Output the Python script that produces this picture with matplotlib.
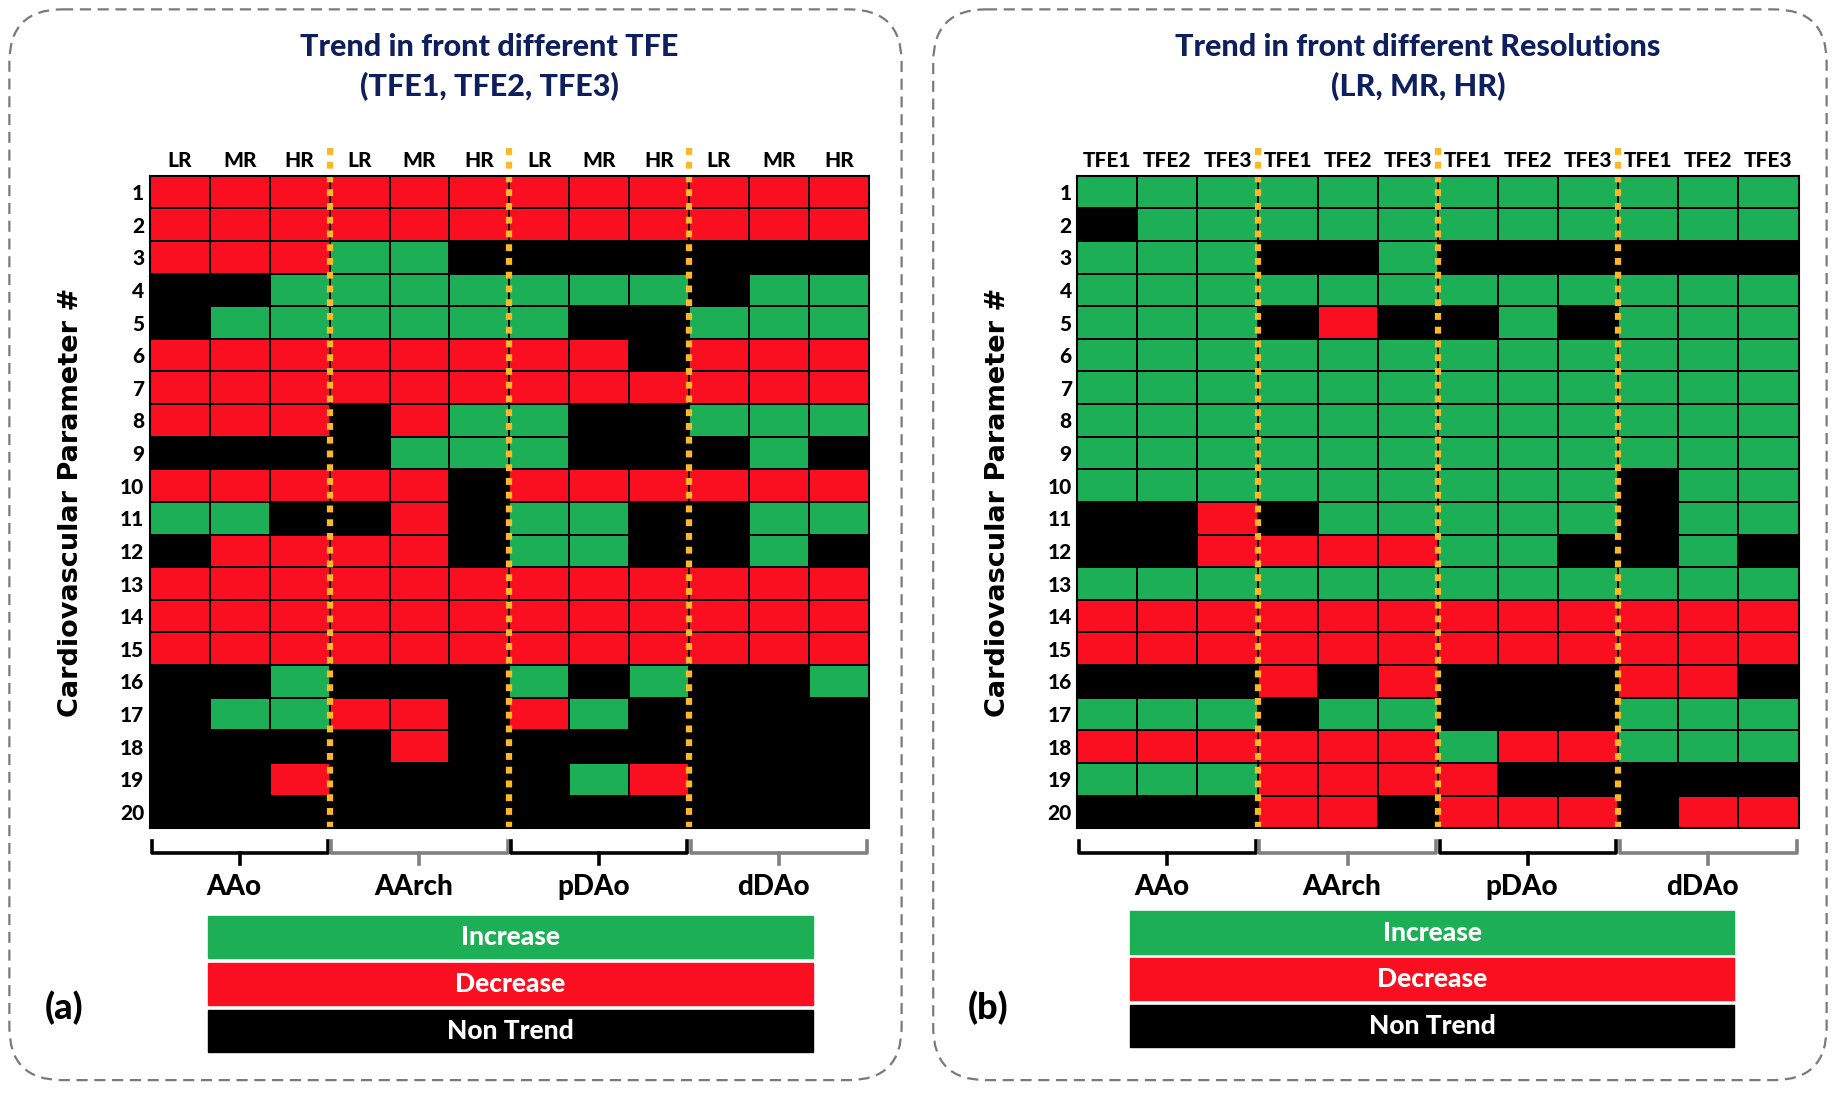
import matplotlib
matplotlib.use('Agg')
import matplotlib.pyplot as plt
from matplotlib.colors import ListedColormap
from matplotlib.patches import FancyBboxPatch, Rectangle
import numpy as np

# I = increase, D = decrease, N = non trend
regions = ['AAo', 'AArch', 'pDAo', 'dDAo']
res_labels = ['LR', 'MR', 'HR']
tfe_labels = ['TFE1', 'TFE2', 'TFE3']
params = [str(i) for i in range(1, 21)]

# (a) trend across TFE, columns = region x resolution
tfe_trend = [
    'DDD DDD DDD DDD',
    'DDD DDD DDD DDD',
    'DDD IIN NNN NNN',
    'NNI III III NII',
    'NII III INN III',
    'DDD DDD DDN DDD',
    'DDD DDD DDD DDD',
    'DDD NDI INN III',
    'NNN NII INN NIN',
    'DDD DDN DDD DDD',
    'IIN NDN IIN NII',
    'NDD DDN IIN NIN',
    'DDD DDD DDD DDD',
    'DDD DDD DDD DDD',
    'DDD DDD DDD DDD',
    'NNI NNN INI NNI',
    'NII DDN DIN NNN',
    'NNN NDN NNN NNN',
    'NND NNN NID NNN',
    'NNN NNN NNN NNN',
]

# (b) trend across resolution, columns = region x TFE
res_trend = [
    'III III III III',
    'NII III III III',
    'III NNI NNN NNN',
    'III III III III',
    'III NDN NIN III',
    'III III III III',
    'III III III III',
    'III III III III',
    'III III III III',
    'III III III NII',
    'NND NII III NII',
    'NND DDD IIN NIN',
    'III III III III',
    'DDD DDD DDD DDD',
    'DDD DDD DDD DDD',
    'NNN DND NNN DDN',
    'III NII NNN III',
    'DDD DDD IDD III',
    'III DDD DNN NNN',
    'NNN DDN DDD NDD',
]

GREEN = '#1DAF55'
RED = '#F90F1F'
NAVY = '#0D1F5C'
YELLOW = '#FDB827'
code = {'N': 0, 'I': 1, 'D': 2}
cmap = ListedColormap(['#000000', GREEN, RED])

plt.rcParams['font.family'] = ['Lato', 'DejaVu Sans']
HEAVY = 900

W, H = 1568, 933
fig = plt.figure(figsize=(18.36, 10.93), dpi=100)
bg = fig.add_axes([0, 0, 1, 1])
bg.set_xlim(0, W)
bg.set_ylim(H, 0)
bg.axis('off')


def to_grid(rows):
    return np.array([[code[c] for c in r.replace(' ', '')] for r in rows])


def panel(box, hm, title, collabels, grid, legend, letter):
    bx0, by0, bx1, by1 = box
    bg.add_patch(FancyBboxPatch((bx0, by0), bx1 - bx0, by1 - by0,
                                boxstyle='round,pad=0,rounding_size=45',
                                fill=False, ec='#7a7a7a', lw=1.6,
                                ls=(0, (5, 3))))
    x0, x1, y0, y1 = hm
    cx = (x0 + x1) / 2 - 17
    bg.text(cx, 40, title[0], ha='center', va='center', fontsize=22,
            fontweight=HEAVY, color=NAVY)
    bg.text(cx, 74, title[1], ha='center', va='center', fontsize=22,
            fontweight=HEAVY, color=NAVY)

    ax = fig.add_axes([x0 / W, 1 - y1 / H, (x1 - x0) / W, (y1 - y0) / H])
    ax.pcolormesh(grid, cmap=cmap, vmin=0, vmax=2, edgecolors='black',
                  linewidth=1.3)
    ax.set_xlim(0, 12)
    ax.set_ylim(20, 0)
    for s in ax.spines.values():
        s.set_linewidth(1.5)
    ax.xaxis.tick_top()
    ax.set_xticks(np.arange(12) + 0.5)
    ax.set_xticklabels(collabels * 4, fontsize=15, fontweight=HEAVY)
    ax.set_yticks(np.arange(20) + 0.5)
    ax.set_yticklabels(params, fontsize=15, fontweight=HEAVY)
    ax.tick_params(length=0, pad=4)

    for k in (3, 6, 9):
        ax.plot([k, k], [0, 20], color='black', lw=1.2)
        ax.plot([k, k], [-0.85, 20], color=YELLOW, lw=4.5,
                ls=(0, (1.1, 1.1)), clip_on=False)

    for g, name in enumerate(regions):
        col = 'black' if g % 2 == 0 else '#808080'
        a, b = g * 3 + 0.03, g * 3 + 2.97
        ax.plot([a, a, b, b], [20.4, 20.75, 20.75, 20.4], color=col, lw=2.6,
                clip_on=False, solid_joinstyle='round')
        ax.plot([g * 3 + 1.5] * 2, [20.75, 21.1], color=col, lw=2.6,
                clip_on=False)
        ax.text(g * 3 + 1.4, 21.8, name, ha='center', va='center',
                fontsize=20, fontweight=HEAVY)

    ax.set_ylabel('Cardiovascular Parameter #', fontsize=19.5,
                  fontweight='bold', family='DejaVu Sans', labelpad=26)

    lx0, lx1, ly = legend
    for i, (txt, c) in enumerate([('Increase', GREEN), ('Decrease', RED),
                                  ('Non Trend', 'black')]):
        top = ly + i * 40
        bg.add_patch(Rectangle((lx0, top), lx1 - lx0, 36, color=c))
        bg.text((lx0 + lx1) / 2, top + 18, txt, ha='center', va='center',
                fontsize=19, fontweight=HEAVY, color='white')

    bg.text(bx0 + 47, 860, letter, ha='center', va='center', fontsize=26,
            fontweight=HEAVY)


panel((8, 8, 770, 922), (128, 742, 150, 707),
      ('Trend in front different TFE', '(TFE1, TFE2, TFE3)'),
      res_labels, to_grid(tfe_trend), (178, 694, 782), '(a)')
panel((797, 8, 1560, 922), (920, 1536, 150, 707),
      ('Trend in front different Resolutions', '(LR, MR, HR)'),
      tfe_labels, to_grid(res_trend), (965, 1481, 778), '(b)')

fig.savefig('out.png', dpi=100)
